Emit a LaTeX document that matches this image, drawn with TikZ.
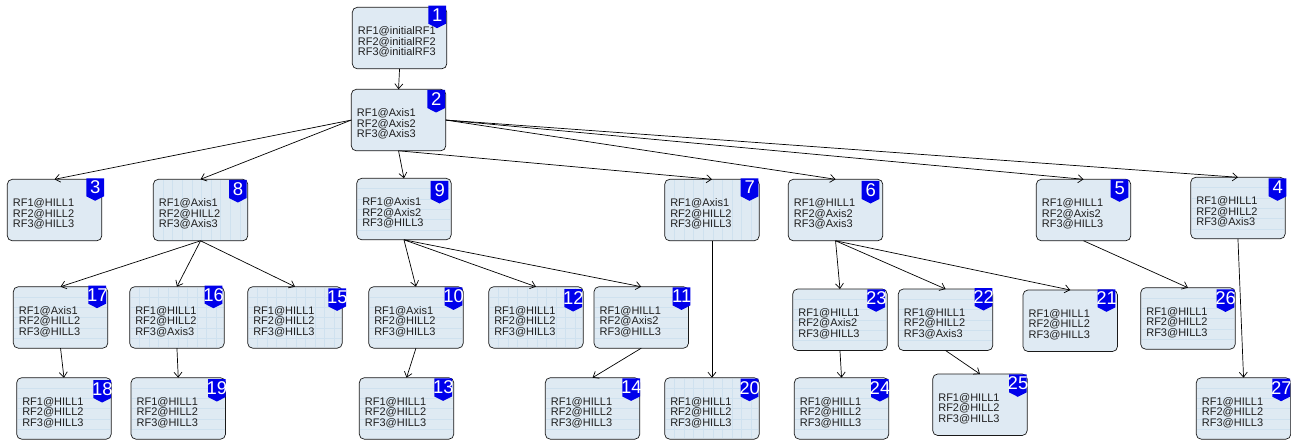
\documentclass[tikz,border=0pt]{standalone}
\usepackage{fontspec}
\setmainfont{Liberation Sans}
\usetikzlibrary{arrows.meta}
\definecolor{boxfill}{HTML}{DFEAF3}
\definecolor{gridc}{HTML}{CFE1EF}
\definecolor{txt}{HTML}{202020}
\tikzset{
  x=1pt,y=-1pt,
  stateb/.style={fill=boxfill,rounded corners=5pt,minimum width=94.5pt,minimum height=61.5pt,inner sep=0pt,outer sep=0pt},
  boxedge/.style={draw=black!90,line width=.7pt,rounded corners=5pt},
  lab/.style={anchor=west,align=left,font=\fontsize{11}{10.5}\selectfont,text=txt,inner sep=0pt},
  num/.style={text=white,font=\fontsize{18.5}{18.5}\selectfont,inner sep=0pt},
  badge/.style={fill=blue!92!black},
  conn/.style={draw=black,line width=.7pt,-{Straight Barb[length=5pt,width=8pt,line width=.7pt]}},
}
% name, left, top, number, line suffixes, grid type (0 none,1 horizontal,2 both,3 vertical), badge dx/dy
\def\parsebadge#1/#2\relax{\def\bdx{#1}\def\bdy{#2}}
\newcommand{\st}[9]{%
  \parsebadge#9\relax
  \node[stateb,anchor=north west] (#1) at (#2,#3) {};
  \ifnum#8>0
    \begin{scope}
      \clip[rounded corners=5pt] (#2+.5,#3+.5) rectangle (#2+94,#3+61);
      \ifnum#8<3
      \foreach \k in {1,...,5}\draw[gridc,line width=.4pt] (#2+1,#3+\k*10.3) -- (#2+94,#3+\k*10.3);
      \fi
      \ifnum#8>1
      \foreach \k in {1,...,9}\draw[gridc,line width=.4pt] (#2+\k*9.6,#3+1) -- (#2+\k*9.6,#3+60.5);
      \fi
    \end{scope}
  \fi
  \draw[boxedge] (#2,#3) rectangle (#2+94.5,#3+61.5);
  \node[lab] (#1t) at (#2+5.4,#3+34.7) {RF1@#5\\RF2@#6\\RF3@#7};
  \fill[badge] (#2+\bdx,#3+\bdy) -- (#2+\bdx+17.7,#3+\bdy) -- (#2+\bdx+17.7,#3+\bdy+18) -- (#2+\bdx+8.8,#3+\bdy+22.5) -- (#2+\bdx,#3+\bdy+18) -- cycle;
  \node[num] (#1n) at (#2+\bdx+9,#3+\bdy+9) {#4};
}
\begin{document}
\begin{tikzpicture}
\useasboundingbox (0,0) rectangle (1291,441);
\st{n1}{352.3}{7.3}{1}{initialRF1}{initialRF2}{initialRF3}{0}{76/-1.6}
\st{n2}{351.3}{89.3}{2}{Axis1}{Axis2}{Axis3}{0}{76/0.7}
\st{n3}{7.3}{179.3}{3}{HILL1}{HILL2}{HILL3}{0}{79/-1}
\st{n8}{153.3}{179.3}{8}{Axis1}{HILL2}{Axis3}{3}{75.7/0.7}
\st{n9}{356.7}{178.3}{9}{Axis1}{Axis2}{HILL3}{1}{74/2.7}
\st{n7}{664.7}{179.3}{7}{Axis1}{HILL2}{HILL3}{3}{76/-1}
\st{n6}{788.3}{179.3}{6}{HILL1}{Axis2}{Axis3}{0}{73.4/1.7}
\st{n5}{1036.3}{179.3}{5}{HILL1}{Axis2}{HILL3}{0}{74.4/0}
\st{n4}{1190.7}{177.3}{4}{HILL1}{HILL2}{Axis3}{1}{78/1}
\st{n17}{13.3}{286.7}{17}{Axis1}{HILL2}{HILL3}{1}{75/-1}
\st{n16}{129.7}{286.7}{16}{HILL1}{HILL2}{Axis3}{2}{75/-1}
\st{n15}{247.7}{286.7}{15}{HILL1}{HILL2}{HILL3}{2}{80.6/1.7}
\st{n10}{368.7}{286.7}{10}{Axis1}{HILL2}{HILL3}{1}{76/0.7}
\st{n12}{488.7}{286.7}{12}{HILL1}{HILL2}{HILL3}{2}{75.7/2.3}
\st{n11}{594}{286.7}{11}{HILL1}{Axis2}{HILL3}{1}{78.7/0.7}
\st{n23}{792.7}{289}{23}{HILL1}{Axis2}{HILL3}{1}{74.6/0.3}
\st{n22}{898.3}{289}{22}{HILL1}{HILL2}{Axis3}{1}{76.4/-1}
\st{n21}{1023}{290}{21}{HILL1}{HILL2}{HILL3}{0}{74.7/-0.7}
\st{n26}{1140.7}{287.7}{26}{HILL1}{HILL2}{HILL3}{1}{76/1.7}
\st{n18}{16.7}{377.7}{18}{HILL1}{HILL2}{HILL3}{1}{76.6/2.3}
\st{n19}{131}{377.7}{19}{HILL1}{HILL2}{HILL3}{1}{77/1.3}
\st{n13}{359.3}{377.7}{13}{HILL1}{HILL2}{HILL3}{1}{75/0.7}
\st{n14}{545.3}{377.7}{14}{HILL1}{HILL2}{HILL3}{1}{77/0.7}
\st{n20}{664.7}{377.7}{20}{HILL1}{HILL2}{HILL3}{2}{76/1}
\st{n24}{794.3}{377.7}{24}{HILL1}{HILL2}{HILL3}{1}{76.7/1.3}
\st{n25}{932.7}{374}{25}{HILL1}{HILL2}{HILL3}{0}{76.3/0.3}
\st{n27}{1196.3}{377.7}{27}{HILL1}{HILL2}{HILL3}{1}{76/1}
\foreach \a/\b in {n1.south/n2,n2.west/n3,n2.west/n8,n2.south/n9,n2.south/n7,n2.east/n6,n2.east/n5,n2.east/n4,
  n8.south/n17,n8.south/n16,n8.south/n15,n9.south/n10,n9.south/n12,n9.south/n11,
  n6.south/n23,n6.south/n22,n6.south/n21,n5.south/n26,n4.south/n27,n7.south/n20,
  n17.south/n18,n16.south/n19,n10.south/n13,n11.south/n14,n23.south/n24,n22.south/n25}
  \draw[conn] (\a) -- (\b.north);
\end{tikzpicture}
\end{document}
